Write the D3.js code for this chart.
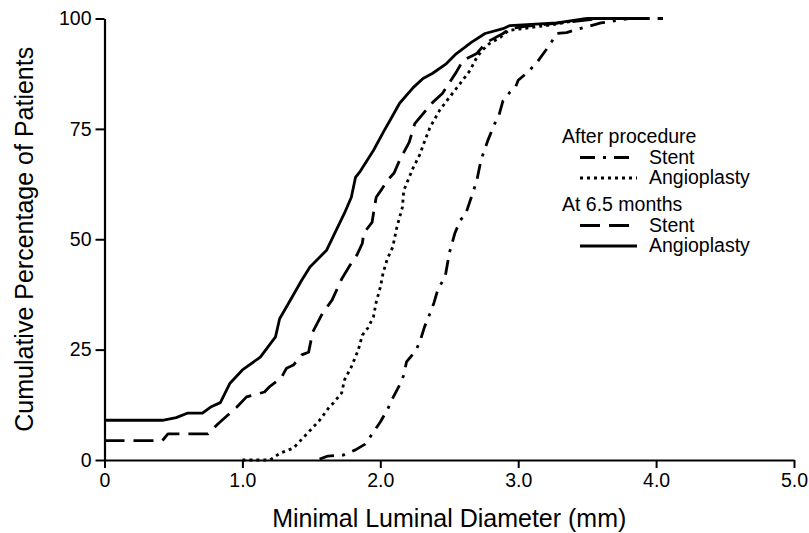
<!DOCTYPE html>
<html>
<head>
<meta charset="utf-8">
<script src="https://cdn.jsdelivr.net/npm/d3@7"></script>
<style>
	body { margin: 0; background: #fff; }
	svg { display: block; font-family: 'Liberation Sans', Arial, sans-serif; }
</style>
</head>
<body>
<div id="chart"></div>
<script>
// cumulative curves, [diameter mm, percent]
const stentAfter = [
	[1.56, 0.2], [1.62, 0.9], [1.73, 1.1], [1.82, 2.3], [1.89, 3.6], [1.95, 6.3], [2.0, 8.6],
	[2.05, 11.3], [2.09, 14], [2.14, 17], [2.17, 19.2], [2.19, 22.2], [2.26, 24.9], [2.29, 27.1],
	[2.32, 30.1], [2.36, 33.2], [2.39, 35.7], [2.42, 38.9], [2.47, 41.4], [2.5, 46.8], [2.54, 51.3],
	[2.58, 54.3], [2.62, 55.8], [2.66, 59.5], [2.7, 63.3], [2.73, 67.9], [2.78, 72.4], [2.83, 76.2],
	[2.86, 78], [2.89, 81.4], [2.94, 83.3], [2.98, 84.4], [3.0, 86], [3.06, 87.6], [3.13, 89.8],
	[3.2, 92.8], [3.24, 94.6], [3.28, 96.6], [3.35, 96.8], [3.4, 97.3], [3.6, 99], [3.8, 100], [4.05, 100],
]
const angioAfter = [
	[1.0, 0], [1.2, 0], [1.27, 1.5], [1.37, 2.7], [1.47, 6], [1.56, 9], [1.63, 12], [1.66, 12.9],
	[1.72, 15.2], [1.74, 18.1], [1.79, 21.1], [1.84, 24.9], [1.87, 28.3], [1.91, 29.9], [1.95, 32.4],
	[1.97, 35.7], [2.0, 39.1], [2.02, 42.3], [2.05, 45.5], [2.09, 48.2], [2.12, 52.7], [2.16, 57.2],
	[2.17, 61], [2.2, 63.3], [2.24, 66.3], [2.29, 69.4], [2.31, 71.3], [2.36, 75.3], [2.43, 79.2],
	[2.5, 82.1], [2.58, 85.3], [2.65, 88.2], [2.7, 91.2], [2.74, 92.8], [2.79, 94.3], [2.87, 95.7],
	[2.93, 97.3], [3.25, 98.6], [3.5, 100], [3.95, 100],
]
const stentMonths = [
	[0, 4.4], [0.42, 4.4], [0.46, 5.9], [0.75, 5.9], [0.82, 8.1], [0.96, 12], [1.03, 14.3],
	[1.16, 15.4], [1.2, 16.7], [1.28, 18.5], [1.32, 20.8], [1.37, 21.5], [1.43, 23.8], [1.48, 24.4],
	[1.51, 29], [1.58, 33.2], [1.65, 36.2], [1.72, 41], [1.78, 44.1], [1.83, 46.4], [1.87, 49.1],
	[1.88, 51.4], [1.94, 53.8], [1.97, 59.5], [2.01, 61.3], [2.05, 63.3], [2.1, 65], [2.14, 67.9],
	[2.21, 72], [2.25, 76.2], [2.38, 81], [2.45, 83], [2.55, 87.8], [2.6, 90.5], [2.7, 92.1],
	[2.77, 94.6], [2.89, 96.6], [2.94, 97.7], [3.05, 98.2], [3.3, 99], [3.6, 100], [3.95, 100],
]
const angioMonths = [
	[0, 9], [0.42, 9], [0.52, 9.6], [0.6, 10.6], [0.71, 10.6], [0.77, 12], [0.84, 13], [0.91, 17.4],
	[1.0, 20.4], [1.13, 23.3], [1.24, 27.9], [1.27, 32], [1.34, 35.8], [1.43, 40.7], [1.49, 43.7],
	[1.61, 47.5], [1.67, 51.4], [1.74, 55.9], [1.79, 59.5], [1.82, 64], [1.85, 65.2], [1.95, 70.1],
	[2.03, 74.7], [2.07, 76.9], [2.14, 80.8], [2.24, 84.4], [2.31, 86.4], [2.38, 87.6], [2.48, 89.8],
	[2.55, 92], [2.66, 94.6], [2.76, 96.6], [2.89, 97.7], [2.94, 98.4], [3.28, 99], [3.5, 100], [3.95, 100],
]

const xTicks = [0, 1, 2, 3, 4, 5]
const yTicks = [0, 25, 50, 75, 100]

const series = [
	{ group: 'After procedure', name: 'Stent', values: stentAfter, dash: '15,8,3,8', w: 2.8 },
	{ group: 'After procedure', name: 'Angioplasty', values: angioAfter, dash: '3,4', w: 2.8 },
	{ group: 'At 6.5 months', name: 'Stent', values: stentMonths, dash: '20,9', w: 2.8 },
	{ group: 'At 6.5 months', name: 'Angioplasty', values: angioMonths, dash: null, w: 2.8 },
]

const width = 809
const height = 533
const margin = { top: 18.5, right: 15, bottom: 73, left: 104.5 }

const svg = d3.select('#chart').append('svg').attr('width', width).attr('height', height)

const x = d3.scaleLinear().domain([0, 5]).range([margin.left, width - margin.right])
const y = d3.scaleLinear().domain([0, 100]).range([height - margin.bottom, margin.top])

// axes
const xAxis = svg
	.append('g')
	.attr('transform', `translate(0,${y(0)})`)
	.call(
		d3.axisBottom(x).tickValues(xTicks).tickSize(8).tickSizeOuter(0).tickPadding(5)
			.tickFormat(d => (d === 0 ? '0' : d3.format('.1f')(d)))
	)
const yAxis = svg
	.append('g')
	.attr('transform', `translate(${x(0)},0)`)
	.call(d3.axisLeft(y).tickValues(yTicks).tickSize(9).tickSizeOuter(0).tickPadding(4))

;[xAxis, yAxis].forEach(g => {
	g.select('.domain').attr('stroke', '#000').attr('stroke-width', 2.2)
	g.selectAll('.tick line').attr('stroke', '#000').attr('stroke-width', 2)
	g.selectAll('.tick text')
		.attr('fill', '#000')
		.attr('font-size', '19.5px')
		.attr('font-family', "'Liberation Sans', Arial, sans-serif")
})

svg.append('text')
	.attr('x', (x(0) + x(5)) / 2)
	.attr('y', 527)
	.attr('text-anchor', 'middle')
	.attr('font-size', '25px')
	.text('Minimal Luminal Diameter (mm)')

svg.append('text')
	.attr('transform', `translate(33,${(y(0) + y(100)) / 2}) rotate(-90)`)
	.attr('text-anchor', 'middle')
	.attr('font-size', '25px')
	.text('Cumulative Percentage of Patients')

// curves
const line = d3.line().x(d => x(d[0])).y(d => y(d[1]))

svg.append('g')
	.selectAll('path')
	.data(series)
	.join('path')
	.attr('d', d => line(d.values))
	.attr('fill', 'none')
	.attr('stroke', '#000')
	.attr('stroke-width', d => d.w)
	.attr('stroke-dasharray', d => d.dash)
	.attr('stroke-linejoin', 'round')

// legend
const legend = svg.append('g').attr('transform', 'translate(562,143)')
const groups = d3.groups(series, d => d.group)
let rowY = 0
groups.forEach(([title, items]) => {
	legend.append('text').attr('x', 0).attr('y', rowY).attr('font-size', '19.5px').text(title)
	items.forEach(s => {
		rowY += 20.5
		legend.append('line')
			.attr('x1', 18).attr('x2', 75)
			.attr('y1', rowY - 6).attr('y2', rowY - 6)
			.attr('stroke', '#000')
			.attr('stroke-width', 3)
			.attr('stroke-dasharray', s.dash)
		legend.append('text').attr('x', 87).attr('y', rowY).attr('font-size', '19.5px').text(s.name)
	})
	rowY += 27
})
</script>
</body>
</html>
